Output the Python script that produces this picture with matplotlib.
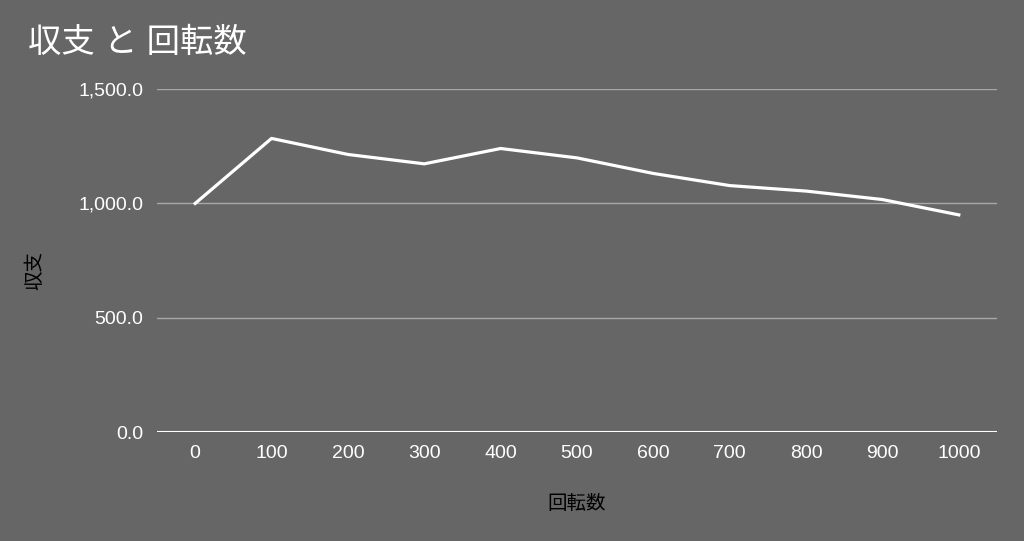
import matplotlib
matplotlib.use("Agg")
import matplotlib.pyplot as plt
from matplotlib.ticker import FuncFormatter

plt.rcParams['font.family'] = ['Liberation Sans', 'Noto Sans CJK JP', 'DejaVu Sans']

# データ
kaiten = ['0', '100', '200', '300', '400', '500', '600', '700', '800', '900', '1000']
shushi = [1000, 1284, 1214, 1173, 1240, 1199, 1131, 1078, 1054, 1017, 950]
y_ticks = [0, 500, 1000, 1500]

bg = '#666666'

fig = plt.figure(figsize=(10.24, 5.41), dpi=100, facecolor=bg)
ax = fig.add_axes([0.1533, 0.2009, 0.8203, 0.6346], facecolor=bg)

xs = list(range(len(kaiten)))
ax.plot(xs, shushi, color='white', lw=2.3, solid_joinstyle='round', zorder=3)

ax.set_xlim(-0.5, len(kaiten) - 0.5)
ax.set_ylim(0, 1500)
ax.set_xticks(xs)
ax.set_xticklabels(kaiten)
ax.set_yticks(y_ticks)
ax.yaxis.set_major_formatter(FuncFormatter(lambda v, p: f'{v:,.1f}'))

# グリッド
ax.grid(axis='y', color='#a8a8a8', lw=1)
ax.axhline(0, color='white', lw=1.5, zorder=2)
for s in ax.spines.values():
    s.set_visible(False)
ax.tick_params(axis='both', length=0, colors='white', labelsize=14)
ax.tick_params(axis='y', pad=10)
ax.tick_params(axis='x', pad=9)

ax.set_xlabel('回転数', color='black', fontsize=14, va='center')
ax.xaxis.set_label_coords(0.5, -0.208)
ax.set_ylabel('収支', color='black', fontsize=14, va='center')
ax.yaxis.set_label_coords(-0.145, 0.472)

fig.text(0.027, 0.92, '収支 と 回転数', color='white', fontsize=24,
         ha='left', va='center')

fig.savefig('out.png', dpi=100, facecolor=bg)
